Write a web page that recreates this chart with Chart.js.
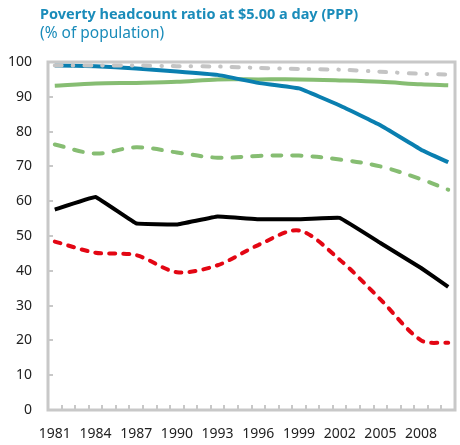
<!DOCTYPE html>
<html>
<head>
<meta charset="utf-8">
<script src="https://cdn.jsdelivr.net/npm/chart.js@4.4.0/dist/chart.umd.min.js"></script>
<style>
  body { margin: 0; background: #fff; }
  #wrap { position: relative; width: 460px; height: 445px; }
  #title { position: absolute; left: 40px; top: 3px; font: bold 14.5px "Noto Sans", sans-serif; color: #1a8cba; white-space: nowrap; }
  #sub { position: absolute; left: 40px; top: 21px; font: 15.5px "Noto Sans", sans-serif; color: #1a8cba; white-space: nowrap; }
  canvas { position: absolute; left: 0; top: 0; }
</style>
</head>
<body>
<div id="wrap">
  <canvas id="povertyChart" width="460" height="445"></canvas>
  <div id="title">Poverty headcount ratio at $5.00 a day (PPP)</div>
  <div id="sub">(% of population)</div>
</div>
<script>
// Survey years with data points
const years = [1981, 1984, 1987, 1990, 1993, 1996, 1999, 2002, 2005, 2008, 2010];

// Series values (% of population)
const grayDashDot  = [99.0, 99.0, 99.0, 98.8, 98.7, 98.3, 98.0, 97.8, 97.2, 96.6, 96.4];
const blueSolid    = [99.0, 98.8, 98.1, 97.3, 96.3, 94.0, 92.4, 87.5, 81.8, 74.8, 71.2];
const greenSolid   = [93.2, 93.8, 94.0, 94.3, 95.0, 95.0, 95.0, 94.7, 94.3, 93.6, 93.3];
const greenDashed  = [76.3, 73.7, 75.5, 74.0, 72.5, 73.0, 73.1, 72.0, 70.0, 66.3, 63.3];
const blackSolid   = [57.6, 61.2, 53.6, 53.3, 55.6, 54.8, 54.8, 55.2, 48.0, 40.8, 35.4];
const redDashed    = [48.4, 45.2, 44.5, 39.6, 41.6, 47.4, 51.6, 43.2, 31.8, 20.0, 19.3];

// Category axis: one slot per year, labels every third year
const firstYear = 1981, lastYear = 2010;
const yearSlots = Array.from({ length: lastYear - firstYear + 1 }, (_, i) => String(firstYear + i));
const yTickStep = 10;

function toPoints(values) {
    return values.map((v, i) => ({ x: String(years[i]), y: v }));
}

const frameColor = '#c8c8c8';

// Plot frame with inward tick marks, like the original spreadsheet chart
const framePlugin = {
    id: 'frame',
    afterDatasetsDraw(chart) {
        const { ctx, chartArea: a, scales } = chart;
        ctx.save();
        ctx.strokeStyle = frameColor;
        ctx.lineWidth = 2;
        // y ticks
        for (let v = 0; v <= 100; v += yTickStep) {
            const py = Math.round(scales.y.getPixelForValue(v));
            ctx.beginPath();
            ctx.moveTo(a.left, py);
            ctx.lineTo(a.left + 5, py);
            ctx.stroke();
        }
        // x ticks between categories
        for (let i = 0; i <= yearSlots.length; i++) {
            const px = Math.round(scales.x.getPixelForValue(i - 0.5));
            ctx.beginPath();
            ctx.moveTo(px, a.bottom);
            ctx.lineTo(px, a.bottom - 5);
            ctx.stroke();
        }
        ctx.lineWidth = 3;
        ctx.strokeRect(a.left, a.top, a.right - a.left, a.bottom - a.top);
        ctx.restore();
    }
};

function series(label, values, color, dash, tension, order) {
    return {
        label,
        data: toPoints(values),
        borderColor: color,
        backgroundColor: color,
        borderWidth: 4,
        borderDash: dash,
        borderCapStyle: dash.length ? 'round' : 'butt',
        borderJoinStyle: 'round',
        pointRadius: 0,
        tension,
        fill: false,
        order
    };
}

new Chart(document.getElementById('povertyChart').getContext('2d'), {
    type: 'line',
    data: {
        labels: yearSlots,
        datasets: [
            series('Gray', grayDashDot, '#c4c4c4', [7, 11, 0.5, 11], 0.2, 0),
            series('Black', blackSolid, '#000000', [], 0.05, 1),
            series('Red', redDashed, '#e30613', [6, 8], 0.3, 2),
            series('Blue', blueSolid, '#0a7fb0', [], 0.1, 3),
            series('Green dashed', greenDashed, '#86bd72', [9, 11], 0.35, 4),
            series('Green', greenSolid, '#86bd72', [], 0.3, 5)
        ]
    },
    options: {
        responsive: false,
        animation: false,
        spanGaps: true,
        layout: { padding: { top: 62, right: 5, left: 0, bottom: 0 } },
        plugins: {
            legend: { display: false },
            tooltip: { enabled: false }
        },
        scales: {
            x: {
                type: 'category',
                offset: true,
                grid: { display: false },
                border: { display: false },
                afterFit: s => { s.height = 35; },
                ticks: {
                    autoSkip: false,
                    maxRotation: 0,
                    padding: 8,
                    color: '#222',
                    font: { family: 'Noto Sans', size: 14 },
                    callback: function (val, idx) {
                        return idx % 3 === 0 ? this.getLabelForValue(val) : '';
                    }
                }
            },
            y: {
                min: 0,
                max: 100,
                grid: { display: false },
                border: { display: false },
                afterFit: s => { s.width = 48; },
                ticks: {
                    stepSize: yTickStep,
                    padding: 8,
                    color: '#222',
                    font: { family: 'Noto Sans', size: 14 }
                }
            }
        }
    },
    plugins: [framePlugin]
});
</script>
</body>
</html>
